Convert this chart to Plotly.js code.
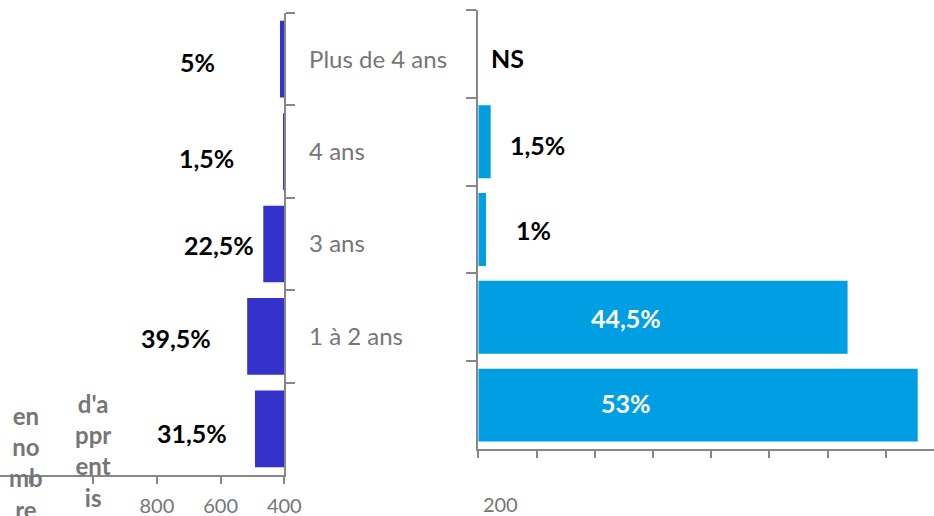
<!DOCTYPE html>
<html>
<head>
<meta charset="utf-8">
<script src="https://cdn.plot.ly/plotly-3.0.1.min.js"></script>
<style>html,body{margin:0;padding:0;background:#fff;}#chart{width:934px;height:516px;}</style>
</head>
<body>
<div id="chart"></div>
<script>
// ---- data ----
const categories = ["Plus de 4 ans", "4 ans", "3 ans", "1 à 2 ans", "\u00a0"];
const leftValues = [413.5, 404, 466, 516.5, 492];
const leftLabels = ["5%", "1,5%", "22,5%", "39,5%", "31,5%"];
const rightValues = [null, 42.6, 26.5, 1269, 1510];
const rightLabels = ["NS", "1,5%", "1%", "44,5%", "53%"];
const leftTickVals = [1200, 1000, 800, 600, 400];
const leftTickText = ["", "", "800", "600", "400"];
const rightTickVals = [0, 200, 400, 600, 800, 1000, 1200, 1400];
const rightTickText = ["200", "", "", "", "", "", "", ""];
const unitLabelA = "en<br>no<br>mb<br>re";
const unitLabelB = "d'a<br>ppr<br>ent<br>is";

// ---- style / layout ----
const W = 934, H = 516;
const FONT = "Lato, Carlito, Calibri, sans-serif";
const GRAY = "#767676";
const AXIS = "#878787";
const px = v => v / W;
const py = v => 1 - v / H;

const leftLabelPos = [[197.5, 62], [206.5, 158], [219, 245], [176, 338], [192, 433]];
const rightLabelPos = [[507, 58], [537.7, 145], [533.7, 230], [626, 318], [626, 403]];
const rightLabelColors = ["#000", "#000", "#000", "#fff", "#fff"];

const traces = [
  {type: "bar", orientation: "h", x: leftValues, y: categories, xaxis: "x", yaxis: "y",
   marker: {color: "#3333CC"}, hoverinfo: "none"},
  {type: "bar", orientation: "h", x: rightValues, y: categories, xaxis: "x2", yaxis: "y2",
   marker: {color: "#009FE3"}, hoverinfo: "none"}
];

const annotations = [];
leftLabels.forEach((t, i) => annotations.push({
  text: "<b>" + t + "</b>", xref: "paper", yref: "paper",
  x: px(leftLabelPos[i][0]), y: py(leftLabelPos[i][1]), xanchor: "center", yanchor: "middle",
  showarrow: false, font: {family: FONT, size: 25, color: "#000"}
}));
rightLabels.forEach((t, i) => annotations.push({
  text: "<b>" + t + "</b>", xref: "paper", yref: "paper",
  x: px(rightLabelPos[i][0]), y: py(rightLabelPos[i][1]), xanchor: "center", yanchor: "middle",
  showarrow: false, font: {family: FONT, size: 25, color: rightLabelColors[i]}
}));
annotations.push({text: "<b>" + unitLabelA + "</b>", xref: "paper", yref: "paper",
  x: px(26), y: py(462), xanchor: "center", yanchor: "middle", showarrow: false, align: "center",
  font: {family: FONT, size: 24, color: GRAY}});
annotations.push({text: "<b>" + unitLabelB + "</b>", xref: "paper", yref: "paper",
  x: px(93), y: py(450), xanchor: "center", yanchor: "middle", showarrow: false, align: "center",
  font: {family: FONT, size: 24, color: GRAY}});

const layout = {
  width: W, height: H,
  margin: {l: 0, r: 0, t: 0, b: 0, pad: 0},
  paper_bgcolor: "#fff", plot_bgcolor: "rgba(0,0,0,0)",
  showlegend: false, bargap: 0.17,
  font: {family: FONT, color: GRAY},
  xaxis: {domain: [0, px(284.3)], range: [400 + 284.3 / 63.7 * 200, 400], anchor: "y",
    tickmode: "array", tickvals: leftTickVals, ticktext: leftTickText,
    ticks: "outside", ticklen: 7, tickwidth: 2, tickcolor: AXIS,
    showline: true, linecolor: AXIS, linewidth: 2, showgrid: false, zeroline: false,
    tickfont: {family: FONT, size: 20, color: GRAY}, ticklabelstandoff: 5, fixedrange: true},
  yaxis: {domain: [py(475), py(13)], type: "category", categoryorder: "array",
    categoryarray: categories, autorange: "reversed", anchor: "x", side: "right",
    ticks: "outside", tickson: "boundaries", ticklen: 9, tickwidth: 2, tickcolor: AXIS,
    showline: true, linecolor: AXIS, linewidth: 2, showgrid: false, zeroline: false,
    tickfont: {family: FONT, size: 24, color: GRAY}, ticklabelstandoff: 18, fixedrange: true},
  xaxis2: {domain: [px(478.3), 1], range: [0, (934 - 478.3) / 58.2 * 200], anchor: "y2",
    tickmode: "array", tickvals: rightTickVals, ticktext: rightTickText,
    ticks: "outside", ticklen: 7, tickwidth: 2, tickcolor: AXIS,
    showline: true, linecolor: AXIS, linewidth: 2, showgrid: false, zeroline: false,
    tickfont: {family: FONT, size: 20, color: GRAY}, ticklabelstandoff: 30, ticklabelshift: 22,
    fixedrange: true},
  yaxis2: {domain: [py(449), py(10)], type: "category", categoryorder: "array",
    categoryarray: categories, autorange: "reversed", anchor: "x2", side: "left",
    ticks: "outside", tickson: "boundaries", ticklen: 10, tickwidth: 2, tickcolor: AXIS,
    showline: true, linecolor: AXIS, linewidth: 2, showgrid: false, zeroline: false,
    showticklabels: false, fixedrange: true},
  annotations: annotations
};

Plotly.newPlot("chart", traces, layout, {staticPlot: true, displayModeBar: false});
</script>
</body>
</html>
